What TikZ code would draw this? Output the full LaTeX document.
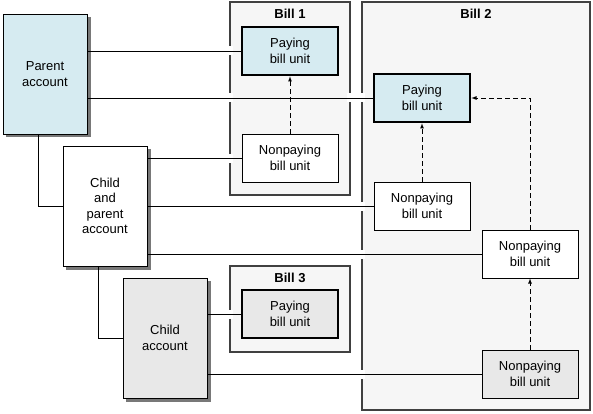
\documentclass[tikz,border=0pt]{standalone}
\usepackage{fontspec}
\setmainfont{Liberation Sans}
\definecolor{payblue}{RGB}{214,235,241}
\definecolor{shadowgray}{RGB}{120,120,120}

\begin{document}
\begin{tikzpicture}[>=latex,x=1pt,y=-1pt,font=\fontsize{13}{15.5}\selectfont,
  acct/.style={draw,line width=0.8pt,minimum width=84pt,minimum height=120pt,align=center,inner sep=0pt},
  acctshadow/.style={fill=shadowgray},
  bill/.style={draw=black!75,line width=1.4pt,fill=gray!7,inner sep=0pt},
  billname/.style={font=\fontsize{13}{15.5}\selectfont\bfseries},
  unit/.style={draw,fill=white,line width=0.8pt,minimum width=96pt,minimum height=48pt,align=center,inner sep=0pt},
  paying/.style={unit,line width=2.6pt,fill=payblue},
  link/.style={line width=0.8pt},
  dep/.style={->,line width=0.8pt,dash pattern=on 5pt off 3pt},
  gap/.style={white,line width=9pt}]
\useasboundingbox (0,0) rectangle (593,414);
\node[bill,minimum width=120pt,minimum height=193pt] (bone) at (290,98.5) {};
\node[bill,minimum width=228pt,minimum height=408pt] (btwo) at (476,206) {};
\node[bill,minimum width=120pt,minimum height=86pt] (bthree) at (290,309) {};
\node[billname] (tone) at (290,14) {Bill 1};
\node[billname] (ttwo) at (476,14) {Bill 2};
\node[billname] (tthree) at (290,278) {Bill 3};
\fill[acctshadow] (6,17) rectangle (90.5,137.5);
\fill[acctshadow] (66,149) rectangle (150.5,269.5);
\fill[acctshadow] (126,281) rectangle (210.5,401.5);
\node[acct,fill=payblue] (pa) at (45,74) {Parent\\account};
\node[acct,fill=white] (cpa) at (105,206) {Child\\and\\parent\\account};
\node[acct,fill=gray!18] (ca) at (165,338) {Child\\account};
\node[paying] (payone) at (290,51) {Paying\\bill unit};
\node[unit] (nonone) at (290,158) {Nonpaying\\bill unit};
\node[paying] (paytwo) at (422,98) {Paying\\bill unit};
\node[unit] (nontwo) at (422,206) {Nonpaying\\bill unit};
\node[unit] (nonthree) at (530,254) {Nonpaying\\bill unit};
\node[unit,fill=gray!18] (nonfour) at (530,374) {Nonpaying\\bill unit};
\node[paying,fill=gray!18] (paythree) at (290,314) {Paying\\bill unit};
\foreach \b/\n in {bone/payone,bone/paytwo,bone/nonone,btwo/paytwo,btwo/nontwo,btwo/nonthree,btwo/nonfour,bthree/paythree}
  \draw[gap] (\b.west |- \n) ++(-4,0) -- ++(8,0);
\draw[gap] (bone.east |- paytwo) ++(-4,0) -- ++(8,0);
\draw[link] (pa.east |- payone) -- (payone.west);
\draw[link] (pa.east |- paytwo) -- (paytwo.west);
\draw[link] (cpa.east |- nonone) -- (nonone.west);
\draw[link] (cpa.east |- nontwo) -- (nontwo.west);
\draw[link] (cpa.east |- nonthree) -- (nonthree.west);
\draw[link] (ca.east |- paythree) -- (paythree.west);
\draw[link] (ca.east |- nonfour) -- (nonfour.west);
\draw[link] ([xshift=-7pt]pa.south) |- (cpa.west);
\draw[link] ([xshift=-7pt]cpa.south) |- (ca.west);
\draw[dep] (nonone) -- (payone);
\draw[dep] (nontwo) -- (paytwo);
\draw[dep] (nonfour) -- (nonthree);
\draw[dep] (nonthree.north) |- (paytwo.east);
\end{tikzpicture}
\end{document}
